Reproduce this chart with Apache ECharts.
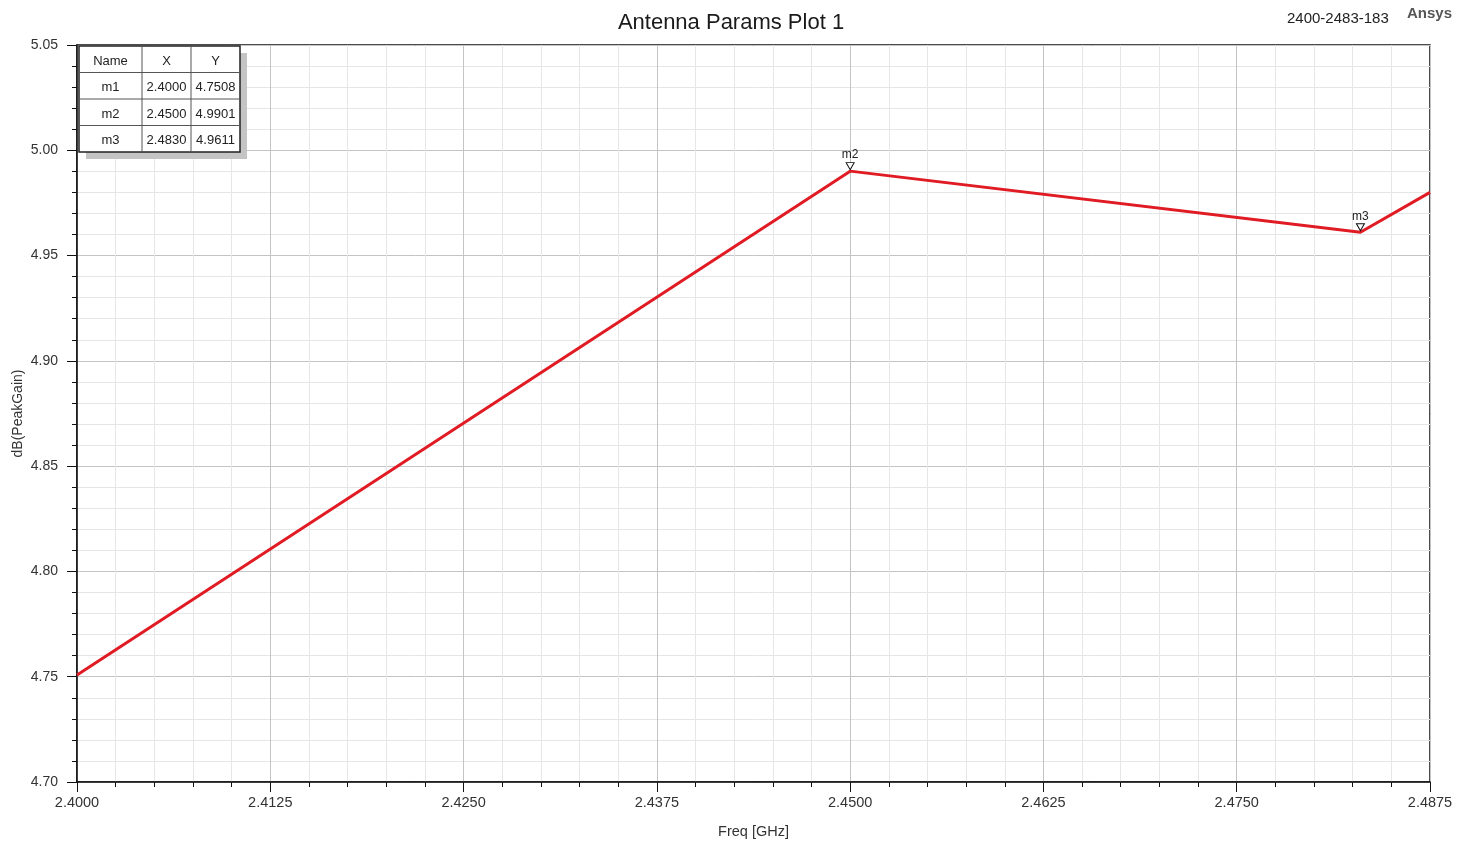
<!DOCTYPE html>
<html>
<head>
<meta charset="utf-8">
<script src="https://cdn.jsdelivr.net/npm/echarts@6/dist/echarts.min.js"></script>
<style>
  html, body { margin: 0; padding: 0; background: #fff; }
  #chart { width: 1472px; height: 845px; }
</style>
</head>
<body>
<div id="chart"></div>
<script>
// sweep data
const freqGHz = [2.4, 2.45, 2.483, 2.4875]
const peakGainDb = [4.7508, 4.9901, 4.9611, 4.980]

// markers
const markerNames = ['m1', 'm2', 'm3']
const markerX = [2.4, 2.45, 2.483]
const markerY = [4.7508, 4.9901, 4.9611]
const shownMarkers = ['m2', 'm3']

const FONT = 'Arial, "Liberation Sans", sans-serif'

const chart = echarts.init(document.getElementById('chart'))

// marker table built from the marker arrays
const tableLeft = 79, tableTop = 46
const colW = [63, 49, 49]
const rowH = 26.5
const tableRows = [['Name', 'X', 'Y']].concat(
  markerNames.map((n, i) => [n, markerX[i].toFixed(4), markerY[i].toFixed(4)])
)
const tableW = colW.reduce((a, b) => a + b, 0)
const tableH = rowH * tableRows.length

const tableGraphics = [
  {
    type: 'rect', z: 100,
    shape: { x: tableLeft + 7, y: tableTop + 7, width: tableW, height: tableH },
    style: { fill: '#c4c4c4' },
  },
  {
    type: 'rect', z: 101,
    shape: { x: tableLeft, y: tableTop, width: tableW, height: tableH },
    style: { fill: '#fff', stroke: '#222', lineWidth: 1.5 },
  },
]
let cx = tableLeft
colW.forEach((w, c) => {
  if (c > 0) {
    tableGraphics.push({
      type: 'line', z: 102,
      shape: { x1: cx, y1: tableTop, x2: cx, y2: tableTop + tableH },
      style: { stroke: '#555', lineWidth: 1 },
    })
  }
  tableRows.forEach((row, r) => {
    tableGraphics.push({
      type: 'text', z: 103,
      x: cx + w / 2, y: tableTop + r * rowH + rowH / 2 + 2,
      style: {
        text: row[c], fill: '#222', font: '13px ' + FONT,
        align: 'center', verticalAlign: 'middle',
      },
    })
  })
  cx += w
})
for (let r = 1; r < tableRows.length; r++) {
  tableGraphics.push({
    type: 'line', z: 102,
    shape: { x1: tableLeft, y1: tableTop + r * rowH, x2: tableLeft + tableW, y2: tableTop + r * rowH },
    style: { stroke: '#555', lineWidth: 1 },
  })
}

const option = {
  backgroundColor: '#fff',
  animation: false,
  title: {
    text: 'Antenna Params Plot 1',
    left: 726, top: 7,
    textAlign: 'center',
    textStyle: { fontFamily: FONT, fontSize: 22, fontWeight: 'normal', color: '#1a1a1a' },
  },
  grid: {
    left: 77, right: 42, top: 45, bottom: 63,
    outerBoundsMode: 'none', containLabel: false,
    show: true, borderColor: '#111', borderWidth: 1.5, backgroundColor: 'transparent',
  },
  graphic: [
    {
      type: 'text', x: 1287, y: 11,
      style: { text: '2400-2483-183', fill: '#222', font: '15px ' + FONT },
    },
    {
      type: 'text', x: 1407, y: 6,
      style: { text: 'Ansys', fill: '#555', font: 'bold 15px ' + FONT },
    },
  ].concat(tableGraphics),
  xAxis: {
    type: 'value',
    min: 2.4, max: 2.4875, interval: 0.0125,
    name: 'Freq [GHz]',
    nameLocation: 'middle', nameGap: 42,
    nameTextStyle: { fontFamily: FONT, fontSize: 14.5, color: '#333' },
    axisLine: { lineStyle: { color: '#111', width: 1.5 } },
    axisTick: { show: true, length: 10, lineStyle: { color: '#111' } },
    minorTick: { show: true, splitNumber: 5, length: 5, lineStyle: { color: '#111' } },
    axisLabel: { fontFamily: FONT, fontSize: 14.5, color: '#333', margin: 13, formatter: v => v.toFixed(4) },
    splitLine: { show: true, lineStyle: { color: '#c4c4c4', width: 1 } },
    minorSplitLine: { show: true, lineStyle: { color: '#e6e6e6', width: 1 } },
  },
  yAxis: {
    type: 'value',
    min: 4.7, max: 5.05, interval: 0.05,
    name: 'dB(PeakGain)',
    nameLocation: 'middle', nameGap: 52, nameMoveOverlap: false,
    nameTextStyle: { fontFamily: FONT, fontSize: 14, color: '#333' },
    axisLine: { show: true, lineStyle: { color: '#111', width: 1.5 } },
    axisTick: { show: true, length: 10, lineStyle: { color: '#111' } },
    minorTick: { show: true, splitNumber: 5, length: 5, lineStyle: { color: '#111' } },
    axisLabel: { fontFamily: FONT, fontSize: 14, color: '#333', margin: 19, formatter: v => v.toFixed(2) },
    splitLine: { show: true, lineStyle: { color: '#c4c4c4', width: 1 } },
    minorSplitLine: { show: true, lineStyle: { color: '#e6e6e6', width: 1 } },
  },
  series: [
    {
      type: 'line',
      data: freqGHz.map((f, i) => [f, peakGainDb[i]]),
      showSymbol: false,
      lineStyle: { color: '#e01b24', width: 3 },
      markPoint: {
        symbol: 'triangle',
        symbolRotate: 180,
        symbolSize: [8, 7],
        symbolOffset: [0, -5],
        itemStyle: { color: '#fff', borderColor: '#111', borderWidth: 1 },
        label: {
          show: true, position: 'top', distance: 1,
          fontFamily: FONT, fontSize: 12, color: '#222',
          formatter: p => p.name,
        },
        data: markerNames
          .map((n, i) => ({ name: n, coord: [markerX[i], markerY[i]] }))
          .filter(d => shownMarkers.includes(d.name)),
      },
    },
  ],
}

chart.setOption(option)
</script>
</body>
</html>
